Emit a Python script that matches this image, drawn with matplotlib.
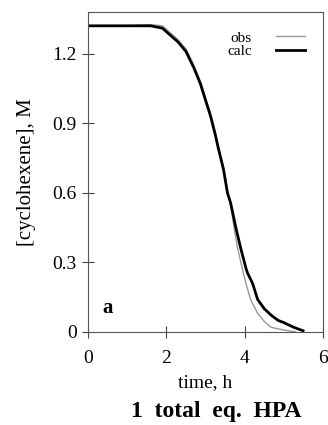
import matplotlib
matplotlib.use('Agg')
import matplotlib.pyplot as plt

# data
time_calc = [0.0, 1.0, 1.6, 1.9, 2.1, 2.3, 2.5, 2.7, 2.87, 3.0, 3.13, 3.25, 3.33,
             3.46, 3.56, 3.64, 3.77, 3.9, 4.03, 4.07, 4.2, 4.33, 4.5, 4.67, 4.85,
             5.0, 5.25, 5.49]
conc_calc = [1.32, 1.32, 1.32, 1.31, 1.28, 1.25, 1.21, 1.14, 1.07, 1.00, 0.93, 0.85,
             0.79, 0.70, 0.60, 0.557, 0.453, 0.36, 0.276, 0.255, 0.21, 0.14, 0.10,
             0.073, 0.05, 0.04, 0.02, 0.005]

time_obs = [0.0, 1.0, 1.6, 1.9, 2.1, 2.3, 2.5, 2.7, 2.87, 3.0, 3.13, 3.25, 3.33,
            3.46, 3.56, 3.64, 3.72, 3.82, 3.93, 4.03, 4.15, 4.33, 4.5, 4.67, 5.0, 5.3]
conc_obs = [1.32, 1.32, 1.325, 1.32, 1.29, 1.26, 1.22, 1.15, 1.08, 1.01, 0.94, 0.86,
            0.80, 0.71, 0.61, 0.55, 0.46, 0.36, 0.28, 0.21, 0.14, 0.08, 0.045, 0.02,
            0.008, 0.0]

x_ticks = [0, 2, 4, 6]
y_ticks = [0, 0.3, 0.6, 0.9, 1.2]
y_tick_labels = ['0', '0.3', '0.6', '0.9', '1.2']

plt.rcParams['font.family'] = ['Liberation Serif', 'DejaVu Serif']

fig = plt.figure(figsize=(3.28, 4.25), dpi=100)
ax = fig.add_axes([0.268, 0.219, 0.717, 0.753])

ax.plot(time_obs, conc_obs, color='#999999', lw=1.0, label='obs')
ax.plot(time_calc, conc_calc, color='black', lw=2.0, label='calc')

ax.set_xlim(0, 6)
ax.set_ylim(0, 1.38)
ax.set_xticks(x_ticks)
ax.set_yticks(y_ticks)
ax.set_yticklabels(y_tick_labels)
ax.tick_params(direction='inout', length=8, width=0.8, labelsize=14, color='#444444')
ax.tick_params(axis='x', pad=9)
ax.tick_params(axis='y', pad=4)
for s in ax.spines.values():
    s.set_color('#555555')
    s.set_linewidth(0.8)

ax.set_xlabel('time, h', fontsize=14, labelpad=5)
ax.set_ylabel('[cyclohexene], M', fontsize=15, labelpad=12)

ax.text(0.06, 0.06, 'a', transform=ax.transAxes, fontsize=15, fontweight='bold')

leg = ax.legend(loc='upper right', bbox_to_anchor=(0.95, 0.96), frameon=False,
                markerfirst=False, fontsize=11, handlelength=1.9, handletextpad=1.6,
                labelspacing=0.0, borderaxespad=0.0)

fig.text(0.66, 0.02, '1  total  eq.  HPA', ha='center', va='baseline',
         fontsize=17, fontweight='bold')

plt.savefig('out.png', dpi=100)
plt.close()
